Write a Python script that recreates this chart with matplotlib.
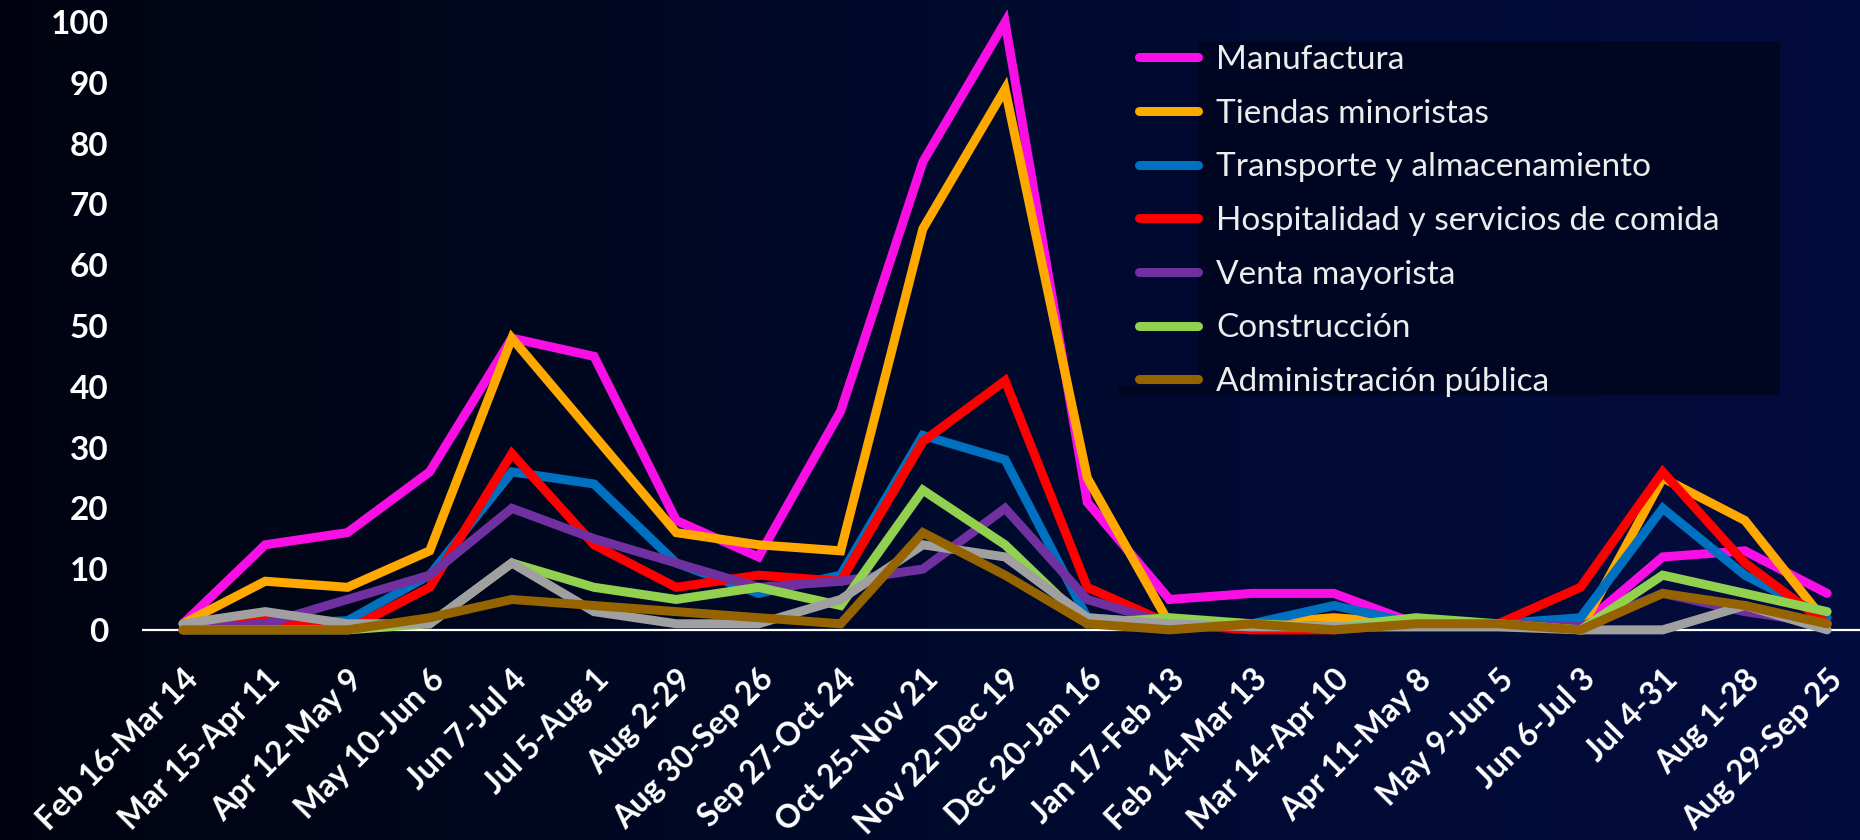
import numpy as np
import matplotlib
matplotlib.use('Agg')
import matplotlib.pyplot as plt
from matplotlib.colors import LinearSegmentedColormap
from matplotlib.patches import Rectangle

# Periodos (eje X)
periodos = ['Feb 16-Mar 14', 'Mar 15-Apr 11', 'Apr 12-May 9', 'May 10-Jun 6',
            'Jun 7-Jul 4', 'Jul 5-Aug 1', 'Aug 2-29', 'Aug 30-Sep 26',
            'Sep 27-Oct 24', 'Oct 25-Nov 21', 'Nov 22-Dec 19', 'Dec 20-Jan 16',
            'Jan 17-Feb 13', 'Feb 14-Mar 13', 'Mar 14-Apr 10', 'Apr 11-May 8',
            'May 9-Jun 5', 'Jun 6-Jul 3', 'Jul 4-31', 'Aug 1-28', 'Aug 29-Sep 25']

# Series por sector
manufactura = [1, 14, 16, 26, 48, 45, 18, 12, 36, 77, 100, 21, 5, 6, 6, 1, 1, 0.5, 12, 13, 6]
tiendas = [1, 8, 7, 13, 48, 32, 16, 14, 13, 66, 89, 25, 1, 1, 2, 1, 1, 0, 25, 18, 1]
transporte = [1, 1, 1.5, 9, 26, 24, 11, 6, 9, 32, 28, 2, 1, 1, 4, 1, 1, 2, 20, 9, 2]
hospitalidad = [0, 2, 0, 7, 29, 14, 7, 9, 8, 31, 41, 7, 1, 0, 0, 1, 1, 7, 26, 11, 1]
mayorista = [0, 1, 5, 9, 20, 15, 11, 7, 8, 10, 20, 5, 1, 1, 0.5, 1, 1, 0.5, 6, 3, 1]
construccion = [0, 0, 0, 1, 11, 7, 5, 7, 4, 23, 14, 1, 2, 1, 0.5, 2, 1, 0, 9, 6, 3]
otros = [1, 3, 1, 1, 11, 3, 1, 1, 5, 14, 12, 2, 1, 0.5, 0.5, 0.5, 0.5, 0, 0, 4, 0]
administracion = [0, 0, 0, 2, 5, 4, 3, 2, 1, 16, 9, 1, 0, 1, 0, 1, 1, 0, 6, 4, 1]

series = [
    ('Manufactura', manufactura, '#F90FE6'),
    ('Tiendas minoristas', tiendas, '#FFA800'),
    ('Transporte y almacenamiento', transporte, '#0070C0'),
    ('Hospitalidad y servicios de comida', hospitalidad, '#FF0000'),
    ('Venta mayorista', mayorista, '#7030A0'),
    ('Construcción', construccion, '#92D050'),
    (None, otros, '#A0A0A0'),
    ('Administración pública', administracion, '#956300'),
]

plt.rcParams['font.family'] = ['Lato', 'DejaVu Sans']

fig = plt.figure(figsize=(18.6, 8.4), dpi=100)

# Fondo degradado
fondo = fig.add_axes([0, 0, 1, 1], zorder=-10)
cmap = LinearSegmentedColormap.from_list('fondo', ['#00030F', '#000A2C', '#030C3E'])
fondo.imshow(np.linspace(0, 1, 256).reshape(1, -1), aspect='auto', cmap=cmap,
             extent=[0, 1, 0, 1])
fondo.axis('off')

ax = fig.add_axes([0.0763, 0.2357, 0.9237, 0.7452])
ax.set_facecolor('none')
x = np.arange(len(periodos))
for nombre, valores, color in series:
    ax.plot(x, valores, color=color, lw=6.5, label=nombre if nombre else '_nolegend_',
            solid_joinstyle='miter', solid_capstyle='round', clip_on=False, zorder=2)

ax.axhline(0, color='white', lw=1.6, zorder=1.5)
ax.set_xlim(-0.5, 20.4)
ax.set_ylim(-2, 101)
ax.set_yticks(range(0, 101, 10))
ax.set_xticks(x)
ax.set_xticklabels(periodos, rotation=45, ha='right', va='top', rotation_mode='anchor')
ax.tick_params(axis='y', length=0, colors='white', labelsize=24, pad=24)
ax.tick_params(axis='x', length=0, colors='white', labelsize=23, pad=16)
for lbl in ax.get_xticklabels() + ax.get_yticklabels():
    lbl.set_fontweight('bold')
for s in ax.spines.values():
    s.set_visible(False)

# Caja oscura de la leyenda
ax.add_patch(Rectangle((1198 / 1860, 1 - 394 / 840), (1779 - 1198) / 1860, (394 - 42) / 840,
                       transform=fig.transFigure, color='#000522', zorder=3, clip_on=False))
ax.add_patch(Rectangle((1118 / 1860, 1 - 394 / 840), 80 / 1860, 8 / 840,
                       transform=fig.transFigure, color='#000522', zorder=3, clip_on=False))

leg = ax.legend(loc='upper left', bbox_to_anchor=(1139 / 1860, 1 - 45 / 840),
                bbox_transform=fig.transFigure, frameon=False, fontsize=24,
                handlelength=1.77, handletextpad=0.54, labelspacing=0.71,
                borderpad=0, borderaxespad=0)
leg.set_zorder(5)
for t in leg.get_texts():
    t.set_color('#EDEDED')

fig.savefig('out.png', dpi=100, facecolor='#000A2C')
